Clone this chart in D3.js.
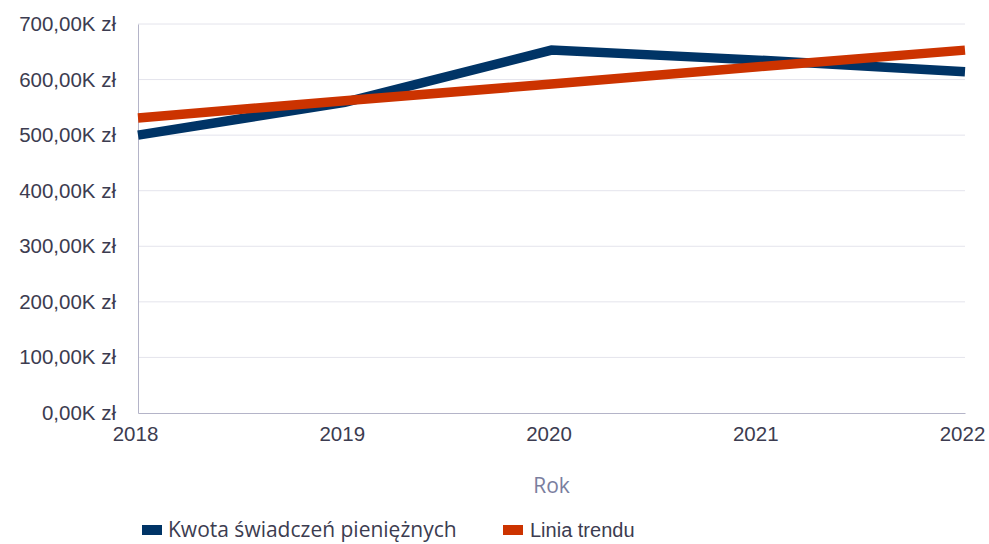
<!DOCTYPE html>
<html>
<head>
<meta charset="utf-8">
<script src="https://cdn.jsdelivr.net/npm/d3@7"></script>
<style>
  body { margin: 0; background: #fff; }
  svg { font-family: "Open Sans", "Noto Sans", sans-serif; }
</style>
</head>
<body>
<script>
// chart data (values in zł)
var years = [2018, 2019, 2020, 2021, 2022];
var kwota = [500000, 559000, 653000, 635000, 614000];
var trend = [531000, 562000, 592000, 623000, 653000];
var yTicks = [0, 100000, 200000, 300000, 400000, 500000, 600000, 700000];
var seriesNames = ["Kwota świadczeń pieniężnych", "Linia trendu"];
var colors = ["#003466", "#cc3300"];

var width = 989, height = 544;
var margin = {top: 24, right: 24, bottom: 131, left: 138};

var svg = d3.select(document.body).append("svg")
  .attr("width", width).attr("height", height);

// scales
var x = d3.scalePoint().domain(years).range([margin.left, width - margin.right]);
var y = d3.scaleLinear().domain([0, 700000]).range([height - margin.bottom, margin.top]);

// fmt: 700,00K zł
var fmt = function(v) { return (v / 1000).toFixed(2).replace(".", ",") + "K zł"; };

// grid lines
svg.append("g").selectAll("line")
  .data(yTicks.slice(1))
  .enter().append("line")
  .attr("x1", margin.left).attr("x2", width - margin.right)
  .attr("y1", function(d) { return y(d); }).attr("y2", function(d) { return y(d); })
  .attr("stroke", "#e4e4ec").attr("stroke-width", 1);

// y axis
var yAxis = svg.append("g")
  .attr("transform", "translate(" + margin.left + ",0)")
  .call(d3.axisLeft(y).tickValues(yTicks).tickFormat(fmt).tickSize(0).tickPadding(22));
yAxis.select(".domain").attr("stroke", "#b4b4c8");
yAxis.selectAll("text").attr("fill", "#3c3c50").style("font-size", "20.5px");

// x axis
var xAxis = svg.append("g")
  .attr("transform", "translate(0," + (height - margin.bottom) + ")")
  .call(d3.axisBottom(x).tickSize(0).tickPadding(13));
xAxis.select(".domain").attr("stroke", "#b4b4c8");
xAxis.selectAll("text").attr("fill", "#3c3c50").style("font-size", "20.5px")
  .attr("dx", "-3");

svg.append("text")
  .attr("x", (margin.left + width - margin.right) / 2)
  .attr("y", 493)
  .attr("text-anchor", "middle")
  .attr("fill", "#7a7e9e")
  .style("font-size", "21px")
  .text("Rok");

// lines
var line = d3.line()
  .x(function(d, i) { return x(years[i]); })
  .y(function(d) { return y(d); });

[kwota, trend].forEach(function(s, i) {
  svg.append("path")
    .datum(s)
    .attr("fill", "none")
    .attr("stroke", colors[i])
    .attr("stroke-width", 9.5)
    .attr("d", line);
});

// legend
var legendX = [142, 503];
var lg = svg.append("g").selectAll("g")
  .data(seriesNames)
  .enter().append("g")
  .attr("transform", function(d, i) { return "translate(" + legendX[i] + ",530)"; });
lg.append("rect")
  .attr("x", 0).attr("y", -5).attr("width", 20).attr("height", 10)
  .attr("fill", function(d, i) { return colors[i]; });
lg.append("text")
  .attr("x", function(d, i) { return i ? 27 : 26; })
  .attr("y", 7)
  .attr("fill", "#3c3c50")
  .style("font-family", function(d, i) { return i ? "'Liberation Sans', Arial, sans-serif" : null; })
  .style("font-size", function(d, i) { return i ? "20px" : "21px"; })
  .text(function(d) { return d; });
</script>
</body>
</html>
